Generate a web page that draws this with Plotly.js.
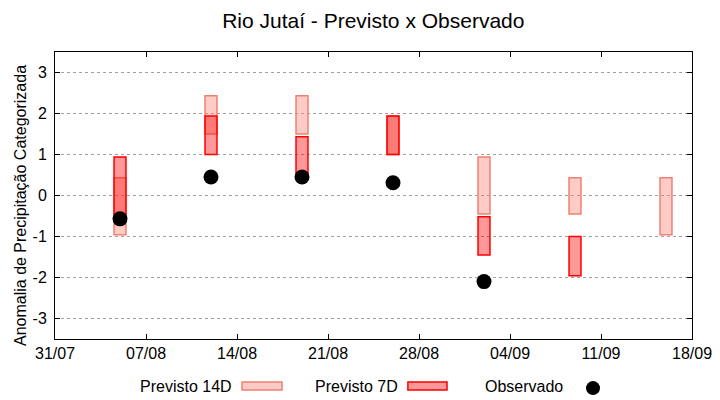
<!DOCTYPE html>
<html>
<head>
<meta charset="utf-8">
<script src="https://cdn.plot.ly/plotly-3.0.1.min.js"></script>
<style>html,body{margin:0;padding:0;background:#fff;}#chart{width:720px;height:400px;}</style>
</head>
<body>
<div id="chart"></div>
<script>
// Forecast dates (weekly)
var dates = ['2024-08-05','2024-08-12','2024-08-19','2024-08-26','2024-09-02','2024-09-09','2024-09-16'];
// Previsto 14D (low / high of the bar)
var p14Low  = [-0.96, 1.50, 1.50, 1.00, -0.45, -0.45, -0.96];
var p14High = [ 0.43, 2.43, 2.43, 1.94,  0.94,  0.43,  0.43];
// Previsto 7D (low / high of the bar)
var p7Low  = [-0.52, 1.00, 0.43, 1.00, -1.45, -1.96, null];
var p7High = [ 0.94, 1.94, 1.43, 1.94, -0.52, -1.00, null];
// Observado
var obs = [-0.57, 0.45, 0.45, 0.31, -2.10, null, null];
// Axis ticks
var yTickVals = [-3, -2, -1, 0, 1, 2, 3];
var yTickText = ['-3', '-2', '-1', '0', '1', '2', '3'];
var seriesNames = ['Previsto 14D', 'Previsto 7D', 'Observado'];
var yTitle = 'Anomalia de Precipitação Categorizada';

var DAY = 86400000;
function heights(lo, hi) {
  return lo.map(function (v, i) { return (v === null || hi[i] === null) ? null : hi[i] - v; });
}

var FONT = 'Liberation Sans, Arial, sans-serif';
var barW = 0.92 * DAY;

var t14 = {
  type: 'bar', name: seriesNames[0], x: dates, base: p14Low, y: heights(p14Low, p14High),
  width: barW, showlegend: false,
  marker: { color: 'rgba(250,128,114,0.4)', line: { color: '#f08070', width: 1.5 } },
  hoverinfo: 'x+name'
};
var t7 = {
  type: 'bar', name: seriesNames[1], x: dates, base: p7Low, y: heights(p7Low, p7High),
  width: barW, showlegend: false,
  marker: { color: 'rgba(255,0,0,0.4)', line: { color: '#ff0000', width: 1.5 } },
  hoverinfo: 'x+name'
};
var tObs = {
  type: 'scatter', mode: 'markers', name: seriesNames[2], x: dates, y: obs, showlegend: false,
  marker: { color: '#000', size: 15, symbol: 'circle' }
};

var legY = -0.164;
var layout = {
  width: 720, height: 400,
  margin: { l: 55, r: 28, t: 52, b: 61 },
  paper_bgcolor: '#fff', plot_bgcolor: '#fff',
  font: { family: FONT, size: 16, color: '#000' },
  title: { text: 'Rio Jutaí - Previsto x Observado', x: 0.5185, xanchor: 'center', y: 0.948, yanchor: 'middle', font: { family: FONT, size: 21, color: '#000' } },
  barmode: 'overlay',
  xaxis: {
    type: 'date', range: ['2024-07-31', '2024-09-18'],
    tick0: '2024-07-31', dtick: 7 * DAY, tickformat: '%d/%m',
    ticks: 'inside', ticklen: 5, tickcolor: '#000', showgrid: false,
    showline: true, linecolor: '#000', linewidth: 1, mirror: 'allticks',
    tickfont: { family: FONT, size: 16, color: '#000' }, zeroline: false
  },
  yaxis: {
    range: [-3.5, 3.5], tickvals: yTickVals, ticktext: yTickText,
    ticks: 'inside', ticklen: 5, tickcolor: '#000',
    showgrid: true, gridcolor: '#a0a0a0', griddash: '3px,3px', gridwidth: 1,
    showline: true, linecolor: '#000', linewidth: 1, mirror: 'allticks', zeroline: false,
    tickfont: { family: FONT, size: 16, color: '#000' }, ticklabelstandoff: 4
  },
  showlegend: false,
  annotations: [
    { xref: 'paper', yref: 'paper', x: -0.0542, y: 0.465, xanchor: 'center', yanchor: 'middle', textangle: -90, text: yTitle, showarrow: false, font: { family: FONT, size: 16 } },
    { xref: 'paper', yref: 'paper', x: 0.281, y: legY, xanchor: 'right', yanchor: 'middle', text: seriesNames[0], showarrow: false, font: { family: FONT, size: 16 } },
    { xref: 'paper', yref: 'paper', x: 0.5416, y: legY, xanchor: 'right', yanchor: 'middle', text: seriesNames[1], showarrow: false, font: { family: FONT, size: 16 } },
    { xref: 'paper', yref: 'paper', x: 0.8006, y: legY, xanchor: 'right', yanchor: 'middle', text: seriesNames[2], showarrow: false, font: { family: FONT, size: 16 } }
  ],
  shapes: [
    { type: 'rect', xref: 'paper', yref: 'paper', x0: 0.2936, x1: 0.3564, y0: -0.1498, y1: -0.1777,
      fillcolor: 'rgba(250,128,114,0.4)', line: { color: '#f08070', width: 1.5 } },
    { type: 'rect', xref: 'paper', yref: 'paper', x0: 0.554, x1: 0.6154, y0: -0.1498, y1: -0.1777,
      fillcolor: 'rgba(255,0,0,0.4)', line: { color: '#ff0000', width: 1.5 } },
    { type: 'circle', xref: 'paper', yref: 'paper', xsizemode: 'pixel', ysizemode: 'pixel',
      xanchor: 0.8446, yanchor: -0.171, x0: -7, x1: 7, y0: -7, y1: 7,
      fillcolor: '#000', line: { color: '#000', width: 0 } }
  ]
};

Plotly.newPlot('chart', [t14, t7, tObs], layout, { displayModeBar: false, staticPlot: true });
</script>
</body>
</html>
